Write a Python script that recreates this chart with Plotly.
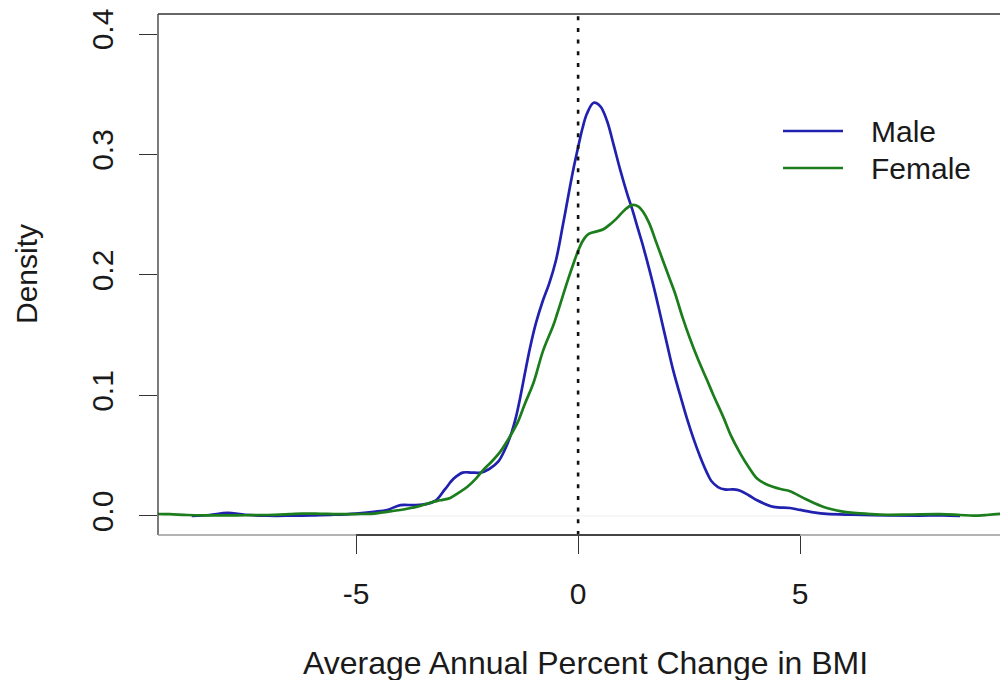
import plotly.graph_objects as go

# Kernel density estimates of average annual percent change in BMI
male_x = [-8.7, -8.3, -7.9, -7.5, -7.0, -6.5, -6.0, -5.5, -5.0, -4.6, -4.3, -4.0,
          -3.7, -3.4, -3.2, -3.0, -2.8, -2.6, -2.4, -2.2, -2.0, -1.8, -1.65, -1.5,
          -1.4, -1.3, -1.2, -1.08, -0.95, -0.8, -0.65, -0.5, -0.35, -0.2, -0.1, 0.0,
          0.1, 0.2, 0.35, 0.5, 0.65, 0.8, 0.95, 1.1, 1.24, 1.35, 1.47, 1.6, 1.73, 1.85,
          2.0, 2.14, 2.3, 2.45, 2.6, 2.75, 2.9, 3.0, 3.15, 3.3, 3.5, 3.65, 3.85, 4.03,
          4.4, 4.77, 5.0, 5.3, 5.6, 6.2, 7.0, 7.7, 8.2, 8.6]
male_y = [0.0, 0.0008, 0.0025, 0.001, 0.0002, 0.0002, 0.0005, 0.001, 0.002, 0.0035,
          0.005, 0.009, 0.009, 0.010, 0.013, 0.022, 0.031, 0.036, 0.036, 0.036, 0.039,
          0.045, 0.055, 0.069, 0.082, 0.099, 0.118, 0.140, 0.160, 0.178, 0.193, 0.212,
          0.240, 0.270, 0.289, 0.306, 0.322, 0.334, 0.343, 0.340, 0.328, 0.308, 0.287,
          0.268, 0.252, 0.238, 0.223, 0.205, 0.186, 0.167, 0.143, 0.121, 0.100, 0.081,
          0.064, 0.049, 0.036, 0.029, 0.024, 0.022, 0.022, 0.021, 0.017, 0.013, 0.0075,
          0.0066, 0.005, 0.003, 0.0017, 0.001, 0.0004, 0.0003, 0.0005, 0.0]

female_x = [-9.8, -9.5, -9.2, -8.8, -8.4, -8.0, -7.5, -7.0, -6.5, -6.2, -5.8, -5.4,
            -5.0, -4.6, -4.2, -3.85, -3.6, -3.33, -3.1, -2.88, -2.7, -2.5, -2.3, -2.14,
            -1.95, -1.76, -1.6, -1.37, -1.2, -1.0, -0.79, -0.56, -0.47, -0.23, -0.1,
            0.0, 0.1, 0.2, 0.3, 0.4, 0.57, 0.75, 0.87, 1.05, 1.21, 1.35, 1.47, 1.6,
            1.77, 2.07, 2.18, 2.35, 2.52, 2.7, 2.9, 3.05, 3.27, 3.45, 3.65, 3.85, 4.03,
            4.2, 4.4, 4.6, 4.77, 5.07, 5.3, 5.6, 5.9, 6.2, 6.6, 6.95, 7.5, 8.15, 8.6,
            8.9, 9.2, 9.5, 9.8]
female_y = [0.003, 0.0017, 0.0015, 0.0008, 0.0005, 0.0005, 0.0006, 0.0008, 0.0015,
            0.002, 0.0018, 0.0015, 0.0016, 0.002, 0.004, 0.006, 0.008, 0.011, 0.013,
            0.015, 0.019, 0.024, 0.031, 0.038, 0.045, 0.053, 0.062, 0.077, 0.093, 0.111,
            0.137, 0.158, 0.168, 0.196, 0.210, 0.220, 0.228, 0.233, 0.235, 0.236, 0.238,
            0.243, 0.247, 0.254, 0.258, 0.257, 0.252, 0.243, 0.226, 0.196, 0.185, 0.165,
            0.147, 0.130, 0.113, 0.100, 0.082, 0.066, 0.052, 0.040, 0.031, 0.027, 0.024,
            0.022, 0.0205, 0.015, 0.011, 0.0066, 0.004, 0.0025, 0.0015, 0.001, 0.0012,
            0.0015, 0.0008, 0.0003, 0.0008, 0.0017, 0.003]

x_ticks = [-5, 0, 5]
x_tick_labels = ["-5", "0", "5"]
y_ticks = [0.0, 0.1, 0.2, 0.3, 0.4]
y_tick_labels = ["0.0", "0.1", "0.2", "0.3", "0.4"]
series_names = ["Male", "Female"]

MALE_COLOR = "#2121b0"
FEMALE_COLOR = "#1c7d1c"
TEXT_COLOR = "#1a1a1a"
FONT = "Liberation Sans, Arial, sans-serif"
FS = 31

W, H = 1000, 680
L, R, T, B = 158, 0, 14, 145
PW, PH = W - L - R, H - T - B


def px(xpix):
    return (xpix - L) / PW


def py(ypix):
    return (H - B - ypix) / PH


fig = go.Figure()
fig.add_trace(go.Scatter(x=male_x, y=male_y, mode="lines", name=series_names[0],
                         line=dict(color=MALE_COLOR, width=2.7, shape="spline", smoothing=1.0),
                         showlegend=False, cliponaxis=True))
fig.add_trace(go.Scatter(x=female_x, y=female_y, mode="lines", name=series_names[1],
                         line=dict(color=FEMALE_COLOR, width=2.7, shape="spline", smoothing=1.0),
                         showlegend=False, cliponaxis=True))

shapes = [
    # faint baseline at zero density
    dict(type="line", xref="paper", yref="y", x0=0, x1=1, y0=0, y1=0,
         line=dict(color="#efefef", width=1), layer="below"),
    # dotted reference line at zero change
    dict(type="line", xref="x", yref="paper", x0=0, x1=0, y0=0, y1=1,
         line=dict(color="#111111", width=2.6, dash="4px,7.7px")),
    # plot frame: left, top, bottom
    dict(type="line", xref="paper", yref="paper", x0=0, x1=0, y0=0, y1=1,
         line=dict(color="#333333", width=1.3)),
    dict(type="line", xref="paper", yref="paper", x0=0, x1=1, y0=1, y1=1,
         line=dict(color="#333333", width=1.3)),
    dict(type="line", xref="paper", yref="paper", x0=0, x1=1, y0=0, y1=0,
         line=dict(color="#9a9a9a", width=1.5)),
    # x axis line spanning the tick range
    dict(type="line", xref="x", yref="paper", x0=x_ticks[0], x1=x_ticks[-1], y0=0, y1=0,
         line=dict(color="#444444", width=1.8)),
]

# legend keys
legend_rows = [(series_names[0], MALE_COLOR, 131), (series_names[1], FEMALE_COLOR, 168)]
annotations = []
for name, color, ypix in legend_rows:
    shapes.append(dict(type="line", xref="paper", yref="paper",
                       x0=px(783), x1=px(843), y0=py(ypix), y1=py(ypix),
                       line=dict(color=color, width=2.7)))
    annotations.append(dict(text=name, xref="paper", yref="paper", x=px(869), y=py(ypix),
                            xanchor="left", yanchor="middle", showarrow=False,
                            font=dict(family=FONT, size=FS - 1, color=TEXT_COLOR)))

annotations.append(dict(text="Average Annual Percent Change in BMI", xref="paper", yref="paper",
                        x=px(585), y=py(663), xanchor="center", yanchor="middle",
                        showarrow=False, font=dict(family=FONT, size=FS + 1, color=TEXT_COLOR)))
annotations.append(dict(text="Density", xref="paper", yref="paper",
                        x=px(26), y=py(274), xanchor="center", yanchor="middle",
                        textangle=-90, showarrow=False,
                        font=dict(family=FONT, size=FS - 1, color=TEXT_COLOR)))

fig.update_layout(
    width=W, height=H,
    margin=dict(l=L, r=R, t=T, b=B, pad=0),
    paper_bgcolor="white", plot_bgcolor="white",
    font=dict(family=FONT, size=FS, color=TEXT_COLOR),
    shapes=shapes, annotations=annotations,
    xaxis=dict(range=[-9.46, 9.5], tickvals=x_ticks, ticktext=x_tick_labels,
               ticks="outside", ticklen=18, tickwidth=1.3, tickcolor="#333333",
               showgrid=False, zeroline=False, showline=False,
               tickfont=dict(family=FONT, size=FS - 1, color=TEXT_COLOR),
               ticklabelstandoff=14),
    yaxis=dict(range=[-0.0158, 0.4166], tickvals=y_ticks, ticktext=y_tick_labels,
               ticks="outside", ticklen=18, tickwidth=1.3, tickcolor="#333333",
               tickangle=-90, showgrid=False, zeroline=False, showline=False,
               tickfont=dict(family=FONT, size=FS - 1, color=TEXT_COLOR),
               ticklabelstandoff=14),
)

fig.write_html("out.html")
